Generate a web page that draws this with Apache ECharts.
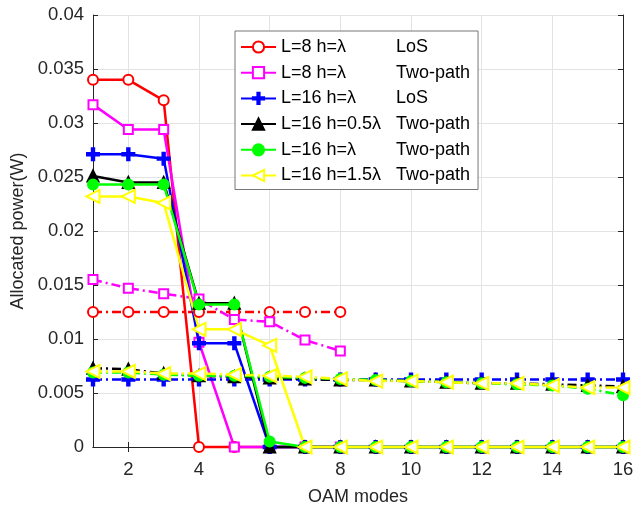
<!DOCTYPE html>
<html>
<head>
<meta charset="utf-8">
<script src="https://cdn.jsdelivr.net/npm/echarts@6/dist/echarts.min.js"></script>
<style>
  html, body { margin: 0; padding: 0; background: #fff; }
  #power { width: 633px; height: 506px; }
</style>
</head>
<body>
<div id="power"></div>
<script>
var modes = ['1','2','3','4','5','6','7','8','9','10','11','12','13','14','15','16'];
var yTicks = [0, 0.005, 0.01, 0.015, 0.02, 0.025, 0.03, 0.035, 0.04];

// solid lines (allocated power)
var l8LoS      = [0.034, 0.034, 0.0321, 0, 0, 0, 0, 0];
var l8Two      = [0.0317, 0.0294, 0.0294, 0.0097, 0, 0, 0, 0];
var l16LoS     = [0.0271, 0.0271, 0.0267, 0.0096, 0.0096, 0, 0, 0, 0, 0, 0, 0, 0, 0, 0, 0];
var l16h05Two  = [0.0251, 0.0245, 0.0245, 0.0133, 0.0133, 0, 0, 0, 0, 0, 0, 0, 0, 0, 0, 0];
var l16h1Two   = [0.0243, 0.0243, 0.0243, 0.0132, 0.0132, 0.0005, 0, 0, 0, 0, 0, 0, 0, 0, 0, 0];
var l16h15Two  = [0.0232, 0.0232, 0.0226, 0.0109, 0.0109, 0.0094, 0, 0, 0, 0, 0, 0, 0, 0, 0, 0];

// dash-dot lines
var l8LoSEq     = [0.0125, 0.0125, 0.0125, 0.0125, 0.0125, 0.0125, 0.0125, 0.0125];
var l8TwoEq     = [0.0155, 0.0147, 0.0142, 0.0137, 0.0118, 0.0116, 0.0099, 0.0089];
var l16LoSEq    = [0.00625, 0.00625, 0.00625, 0.00625, 0.00625, 0.00625, 0.00625, 0.00625, 0.00625, 0.00625, 0.00625, 0.00625, 0.00625, 0.00625, 0.00625, 0.00625];
var l16h05TwoEq = [0.0073, 0.0072, 0.0068, 0.0066, 0.0065, 0.0064, 0.0063, 0.0062, 0.0062, 0.0061, 0.0060, 0.0059, 0.0059, 0.0058, 0.0057, 0.0056];
var l16h1TwoEq  = [0.0069, 0.0069, 0.0067, 0.0066, 0.0066, 0.0065, 0.0064, 0.0063, 0.0062, 0.0061, 0.0060, 0.0059, 0.0058, 0.0057, 0.0054, 0.0048];
var l16h15TwoEq = [0.0070, 0.0070, 0.0068, 0.0068, 0.0067, 0.0066, 0.0065, 0.0063, 0.0061, 0.0061, 0.0060, 0.0059, 0.0059, 0.0057, 0.0055, 0.0055];

var legendNames = [
  ['L=8 h=λ', 'LoS'],
  ['L=8 h=λ', 'Two-path'],
  ['L=16 h=λ', 'LoS'],
  ['L=16 h=0.5λ', 'Two-path'],
  ['L=16 h=λ', 'Two-path'],
  ['L=16 h=1.5λ', 'Two-path']
];

var FONT = 'Liberation Sans, Arial, Helvetica, sans-serif';
var AX = '#262626';
var plus = 'path://M4,0h2v4h4v2h-4v4h-2v-4h-4v-2h4z';
var dashDot = [9, 4, 2, 4];
var even = function (i) { return i % 2 === 1; };

function key(i) { return legendNames[i][0] + ' ' + legendNames[i][1]; }

function mk(name, data, color, symbol, size, dashed, rotate) {
  return {
    name: name,
    type: 'line',
    data: data,
    clip: false,
    symbol: symbol,
    symbolSize: size,
    symbolRotate: rotate || 0,
    showSymbol: true,
    lineStyle: { color: color, width: 2.5, type: dashed ? dashDot : 'solid' },
    itemStyle: { color: color, borderColor: color, borderWidth: 2 },
    emphasis: { disabled: true },
    animation: false
  };
}

var option = {
  backgroundColor: '#fff',
  grid: { left: 93, right: 10, top: 15, bottom: 59, outerBoundsMode: 'none', containLabel: false },
  legend: {
    orient: 'vertical',
    left: 235,
    top: 31,
    data: [0, 1, 2, 3, 4, 5].map(key),
    itemWidth: 35,
    itemHeight: 14,
    itemGap: 7.7,
    padding: [7, 8, 5, 5],
    backgroundColor: '#fff',
    borderColor: '#777',
    borderWidth: 1,
    borderRadius: 0,
    selectedMode: false,
    formatter: function (n) {
      for (var i = 0; i < legendNames.length; i++) {
        if (key(i) === n) return '{a|' + legendNames[i][0] + '}{b|' + legendNames[i][1] + '}';
      }
      return n;
    },
    textStyle: {
      fontFamily: FONT, fontSize: 18, color: '#000', lineHeight: 18,
      rich: {
        a: { width: 115, fontFamily: FONT, fontSize: 18, color: '#000', lineHeight: 18 },
        b: { fontFamily: FONT, fontSize: 18, color: '#000', lineHeight: 18 }
      }
    }
  },
  xAxis: [{
    type: 'category',
    data: modes,
    boundaryGap: false,
    name: 'OAM modes',
    nameLocation: 'middle',
    nameGap: 41,
    nameTextStyle: { fontFamily: FONT, fontSize: 18, color: AX },
    axisLine: { lineStyle: { color: AX, width: 1 } },
    axisTick: { inside: true, length: 5, interval: even, lineStyle: { color: AX } },
    axisLabel: { interval: even, fontFamily: FONT, fontSize: 18.5, color: AX, margin: 13 },
    splitLine: { show: true, interval: even, lineStyle: { color: '#e3e3e3', width: 1 } }
  }, {
    type: 'category',
    data: modes,
    boundaryGap: false,
    position: 'top',
    axisLine: { lineStyle: { color: AX, width: 1 } },
    axisTick: { inside: true, length: 5, interval: even, lineStyle: { color: AX } },
    axisLabel: { show: false },
    splitLine: { show: false }
  }],
  yAxis: [{
    type: 'value',
    min: 0,
    max: 0.04,
    interval: 0.005,
    name: 'Allocated power(W)',
    nameLocation: 'middle',
    nameGap: 60,
    nameTextStyle: { fontFamily: FONT, fontSize: 18, color: AX },
    axisLine: { show: true, lineStyle: { color: AX, width: 1 } },
    axisTick: { show: true, inside: true, length: 5, lineStyle: { color: AX } },
    axisLabel: {
      fontFamily: FONT, fontSize: 18.5, color: AX, margin: 9,
      formatter: function (v) {
        for (var i = 0; i < yTicks.length; i++) {
          if (Math.abs(yTicks[i] - v) < 1e-9) return String(yTicks[i]);
        }
        return '';
      }
    },
    splitLine: { show: true, lineStyle: { color: '#e3e3e3', width: 1 } }
  }, {
    type: 'value',
    min: 0,
    max: 0.04,
    interval: 0.005,
    position: 'right',
    axisLine: { show: true, lineStyle: { color: AX, width: 1 } },
    axisTick: { show: true, inside: true, length: 5, lineStyle: { color: AX } },
    axisLabel: { show: false },
    splitLine: { show: false }
  }],
  series: [
    mk(key(0), l8LoS, '#ff0000', 'emptyCircle', 10, false),
    mk('eq0', l8LoSEq, '#ff0000', 'emptyCircle', 10, true),
    mk(key(1), l8Two, '#ff00ff', 'emptyRect', 9, false),
    mk('eq1', l8TwoEq, '#ff00ff', 'emptyRect', 9, true),
    mk(key(2), l16LoS, '#0000ff', plus, 12, false),
    mk('eq2', l16LoSEq, '#0000ff', plus, 12, true),
    mk(key(3), l16h05Two, '#000000', 'triangle', 11, false),
    mk('eq3', l16h05TwoEq, '#000000', 'triangle', 11, true),
    mk(key(4), l16h1Two, '#00ff00', 'circle', 10, false),
    mk('eq4', l16h1TwoEq, '#00ff00', 'circle', 10, true),
    mk(key(5), l16h15Two, '#ffff00', 'emptyTriangle', 13, false, 90),
    mk('eq5', l16h15TwoEq, '#ffff00', 'emptyTriangle', 13, true, 90)
  ]
};

var chart = echarts.init(document.getElementById('power'), null, { renderer: 'canvas' });
chart.setOption(option);
</script>
</body>
</html>
